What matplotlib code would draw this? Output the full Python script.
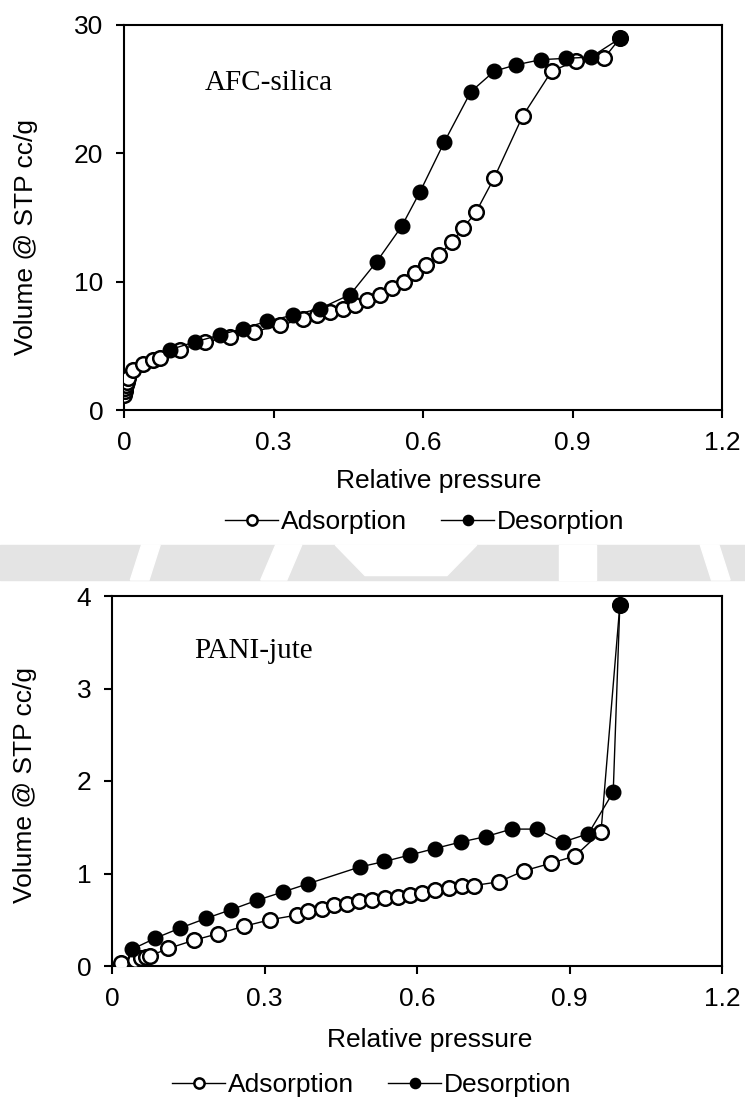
import numpy as np
import matplotlib.pyplot as plt
from matplotlib.patches import Polygon, Rectangle

plt.rcParams['font.family'] = ['Liberation Sans', 'DejaVu Sans']

# AFC-silica isotherm
afc_ads_p = [0.001, 0.002, 0.003, 0.004, 0.006, 0.009, 0.019, 0.039, 0.059, 0.072,
             0.112, 0.163, 0.213, 0.26, 0.313, 0.36, 0.387, 0.413, 0.44, 0.463,
             0.487, 0.514, 0.537, 0.561, 0.584, 0.607, 0.633, 0.658, 0.681, 0.706,
             0.743, 0.80, 0.858, 0.907, 0.963, 0.995]
afc_ads_v = [1.2, 1.45, 1.7, 1.95, 2.2, 2.5, 3.1, 3.6, 3.9, 4.05,
             4.7, 5.3, 5.7, 6.1, 6.6, 7.1, 7.4, 7.65, 7.9, 8.2,
             8.6, 8.95, 9.5, 10.0, 10.65, 11.3, 12.1, 13.1, 14.2, 15.4,
             18.1, 22.9, 26.4, 27.2, 27.4, 28.95]
afc_des_p = [0.995, 0.937, 0.886, 0.837, 0.787, 0.743, 0.696, 0.643, 0.594, 0.557,
             0.507, 0.454, 0.393, 0.34, 0.286, 0.239, 0.193, 0.142, 0.092]
afc_des_v = [28.95, 27.5, 27.4, 27.3, 26.9, 26.4, 24.8, 20.9, 17.0, 14.3,
             11.55, 9.0, 7.9, 7.4, 6.9, 6.35, 5.85, 5.3, 4.7]

# PANI-jute isotherm
pani_ads_p = [0.017, 0.045, 0.058, 0.066, 0.075, 0.111, 0.162, 0.209, 0.26, 0.311,
              0.363, 0.386, 0.413, 0.436, 0.462, 0.485, 0.511, 0.537, 0.562, 0.586,
              0.609, 0.635, 0.662, 0.688, 0.712, 0.761, 0.811, 0.863, 0.911, 0.962,
              0.999]
pani_ads_v = [0.03, 0.07, 0.09, 0.10, 0.11, 0.19, 0.28, 0.35, 0.43, 0.50,
              0.55, 0.59, 0.62, 0.66, 0.67, 0.70, 0.71, 0.73, 0.75, 0.77,
              0.79, 0.82, 0.84, 0.86, 0.87, 0.91, 1.03, 1.11, 1.19, 1.45,
              3.9]
pani_des_p = [0.999, 0.986, 0.937, 0.887, 0.836, 0.786, 0.736, 0.686, 0.635, 0.586,
              0.536, 0.487, 0.386, 0.336, 0.285, 0.235, 0.185, 0.134, 0.085, 0.039]
pani_des_v = [3.9, 1.88, 1.43, 1.34, 1.48, 1.48, 1.40, 1.34, 1.27, 1.20,
              1.13, 1.07, 0.89, 0.80, 0.71, 0.61, 0.515, 0.41, 0.30, 0.18]

x_ticks = [0, 0.3, 0.6, 0.9, 1.2]
x_labels = ["0", "0.3", "0.6", "0.9", "1.2"]

fs = 19

fig = plt.figure(figsize=(7.45, 11.09), dpi=100)

# faint watermark band between the panels
band_y0, band_h = 1 - 580 / 1109, 35 / 1109
fig.patches.append(Rectangle((0, band_y0), 1, band_h, transform=fig.transFigure,
                             color='#e4e4e4', zorder=0))
for xs in ([0.19, 0.215, 0.2, 0.175], [0.37, 0.405, 0.385, 0.35],
           [0.75, 0.8, 0.8, 0.75], [0.94, 0.965, 0.98, 0.955]):
    fig.patches.append(Polygon(list(zip(xs, [band_y0 + band_h, band_y0 + band_h, band_y0, band_y0])),
                               closed=True, transform=fig.transFigure, color='white', zorder=0))
fig.patches.append(Polygon([(0.45, band_y0 + band_h), (0.64, band_y0 + band_h),
                            (0.6, band_y0 + 0.004), (0.49, band_y0 + 0.004)],
                           closed=True, transform=fig.transFigure, color='white', zorder=0))

ax1 = fig.add_axes([124 / 745, 1 - 410 / 1109, 598 / 745, 385 / 1109])
ax2 = fig.add_axes([112 / 745, 1 - 966 / 1109, 610 / 745, 370 / 1109])

panels = [
    (ax1, afc_ads_p, afc_ads_v, afc_des_p, afc_des_v, 30, [0, 10, 20, 30], "AFC-silica",
     (0.527, -0.184), (-0.164, 0.449), (0.503, -0.291)),
    (ax2, pani_ads_p, pani_ads_v, pani_des_p, pani_des_v, 4, [0, 1, 2, 3, 4], "PANI-jute",
     (0.521, -0.2), (-0.143, 0.489), (0.426, -0.322)),
]

for ax, ap, av, dp, dv, ymax, yt, name, xl, yl, lg in panels:
    ax.plot(ap, av, '-o', color='black', lw=1.0, ms=10.5, mew=1.8,
            mfc='white', mec='black', label="Adsorption", zorder=3)
    ax.plot(dp, dv, '-o', color='black', lw=1.0, ms=10.5, mew=1.0,
            mfc='black', mec='black', label="Desorption", zorder=4)
    ax.set_xlim(0, 1.2)
    ax.set_ylim(0, ymax)
    ax.set_xticks(x_ticks)
    ax.set_xticklabels(x_labels)
    ax.set_yticks(yt)
    ax.tick_params(direction='out', length=6, width=1.5, pad=9, labelsize=fs)
    for s in ax.spines.values():
        s.set_linewidth(1.5)
    ax.set_xlabel("Relative pressure", fontsize=fs)
    ax.xaxis.set_label_coords(*xl)
    ax.xaxis.label.set_va('center')
    ax.set_ylabel("Volume @ STP cc/g", fontsize=fs)
    ax.yaxis.set_label_coords(*yl)
    ax.yaxis.label.set_va('center')
    ax.text(0.135, 0.85, name, transform=ax.transAxes, fontsize=21,
            family='Liberation Serif', va='center')
    ax.legend(loc='center', bbox_to_anchor=lg, ncol=2, frameon=False, fontsize=fs,
              handlelength=2.0, handletextpad=0.1, columnspacing=1.3, markerscale=0.7)

fig.savefig("out.png", dpi=100)
